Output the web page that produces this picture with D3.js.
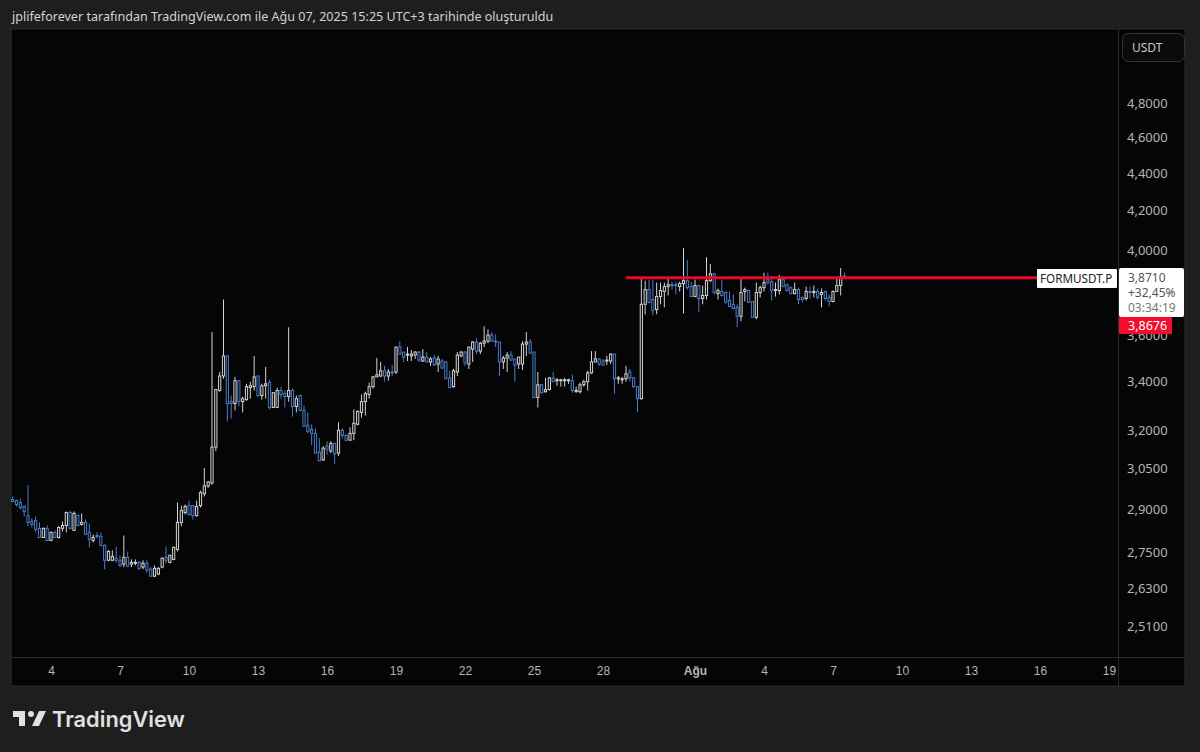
<!DOCTYPE html>
<html>
<head>
<meta charset="utf-8">
<script src="https://cdn.jsdelivr.net/npm/d3@7"></script>
<style>
  html, body { margin: 0; padding: 0; background: #1e1e1e; }
  svg { display: block; }
  text { font-family: "Liberation Sans", sans-serif; }
  .domain, .tick line { display: none; }
</style>
</head>
<body>
<div id="chart"></div>
<script>
var titleText = "jplifeforever tarafından TradingView.com ile Ağu 07, 2025 15:25 UTC+3 tarihinde oluşturuldu";

// 4h bars, first one is Jul 2 08:00
var firstBar = new Date(Date.UTC(2025, 6, 2, 8));

var opens = [
  2.936,2.932,2.925,2.911,2.878,2.857,2.861,2.833,2.801,2.833,
  2.791,2.819,2.801,2.833,2.843,2.889,2.826,2.878,2.847,2.854,
  2.819,2.791,2.808,2.805,2.774,2.723,2.723,2.730,2.723,2.710,
  2.733,2.710,2.713,2.716,2.700,2.713,2.693,2.670,2.677,2.700,
  2.733,2.716,2.726,2.760,2.854,2.889,2.914,2.914,2.878,2.914,
  2.957,2.986,2.997,3.133,3.361,3.422,3.508,3.315,3.307,3.402,
  3.315,3.323,3.373,3.377,3.422,3.340,3.381,3.394,3.291,3.291,
  3.361,3.348,3.336,3.361,3.295,3.340,3.279,3.219,3.203,3.187,
  3.114,3.084,3.137,3.118,3.148,3.110,3.199,3.179,3.160,3.187,
  3.223,3.271,3.315,3.344,3.377,3.418,3.422,3.444,3.422,3.439,
  3.439,3.547,3.525,3.512,3.508,3.512,3.525,3.486,3.503,3.482,
  3.499,3.473,3.486,3.482,3.414,3.377,3.439,3.508,3.525,3.473,
  3.538,3.569,3.529,3.564,3.573,3.600,3.573,3.569,3.482,3.499,
  3.512,3.495,3.473,3.473,3.560,3.569,3.525,3.332,3.385,3.356,
  3.365,3.414,3.402,3.402,3.402,3.402,3.402,3.356,3.356,3.385,
  3.398,3.435,3.482,3.495,3.486,3.486,3.486,3.516,3.410,3.406,
  3.410,3.439,3.414,3.377,3.327,3.740,3.809,3.762,3.716,3.776,
  3.800,3.823,3.832,3.832,3.823,3.837,3.851,3.823,3.776,3.828,
  3.767,3.781,3.851,3.884,3.790,3.800,3.795,3.758,3.740,3.726,
  3.685,3.800,3.804,3.753,3.680,3.795,3.818,3.856,3.846,3.804,
  3.804,3.856,3.832,3.818,3.790,3.809,3.772,3.767,3.800,3.795,
  3.800,3.786,3.800,3.772,3.753,3.800,3.828,3.874
];
var highs = [
  2.947,2.936,2.939,2.914,2.990,2.868,2.875,2.854,2.836,2.843,
  2.822,2.826,2.840,2.857,2.893,2.896,2.893,2.882,2.886,2.864,
  2.850,2.812,2.819,2.819,2.777,2.757,2.757,2.770,2.740,2.808,
  2.753,2.726,2.726,2.720,2.723,2.723,2.700,2.706,2.700,2.733,
  2.770,2.740,2.770,2.925,2.914,2.918,2.932,2.914,2.932,2.968,
  3.053,3.003,3.613,3.365,3.439,3.762,3.508,3.340,3.418,3.402,
  3.336,3.389,3.398,3.508,3.422,3.389,3.460,3.406,3.352,3.373,
  3.377,3.361,3.635,3.369,3.340,3.344,3.299,3.271,3.223,3.207,
  3.168,3.137,3.156,3.156,3.148,3.231,3.207,3.183,3.211,3.283,
  3.279,3.344,3.356,3.394,3.422,3.499,3.482,3.465,3.452,3.469,
  3.547,3.573,3.525,3.547,3.534,3.529,3.529,3.538,3.525,3.503,
  3.512,3.508,3.495,3.486,3.444,3.452,3.525,3.529,3.529,3.547,
  3.573,3.586,3.569,3.639,3.626,3.613,3.604,3.569,3.508,3.525,
  3.529,3.495,3.503,3.573,3.613,3.582,3.525,3.439,3.389,3.414,
  3.418,3.439,3.414,3.410,3.414,3.410,3.427,3.377,3.394,3.406,
  3.444,3.529,3.529,3.499,3.495,3.508,3.520,3.516,3.422,3.418,
  3.465,3.452,3.418,3.377,3.870,3.851,3.856,3.856,3.842,3.842,
  3.842,3.870,3.846,3.846,3.846,4.010,3.951,3.846,3.856,3.832,
  3.828,3.965,3.931,3.889,3.814,3.856,3.800,3.800,3.786,3.740,
  3.865,3.818,3.809,3.753,3.842,3.828,3.889,3.889,3.874,3.842,
  3.879,3.870,3.837,3.823,3.842,3.818,3.776,3.823,3.823,3.828,
  3.814,3.814,3.800,3.786,3.804,3.860,3.912,3.889
];
var lows = [
  2.925,2.911,2.900,2.875,2.840,2.836,2.819,2.801,2.801,2.788,
  2.788,2.798,2.798,2.822,2.819,2.829,2.826,2.843,2.843,2.812,
  2.767,2.784,2.798,2.770,2.693,2.720,2.720,2.716,2.700,2.700,
  2.700,2.700,2.706,2.690,2.693,2.680,2.667,2.667,2.673,2.696,
  2.713,2.713,2.723,2.753,2.840,2.882,2.878,2.864,2.875,2.907,
  2.947,2.979,2.990,3.118,3.356,3.410,3.234,3.246,3.279,3.295,
  3.271,3.319,3.327,3.361,3.336,3.323,3.327,3.283,3.291,3.291,
  3.327,3.291,3.315,3.254,3.271,3.275,3.215,3.187,3.141,3.110,
  3.080,3.080,3.103,3.110,3.069,3.099,3.168,3.156,3.160,3.160,
  3.219,3.250,3.258,3.327,3.369,3.418,3.418,3.398,3.402,3.422,
  3.431,3.516,3.482,3.486,3.486,3.495,3.482,3.482,3.482,3.465,
  3.465,3.439,3.452,3.410,3.373,3.373,3.422,3.503,3.465,3.452,
  3.482,3.516,3.516,3.547,3.564,3.569,3.547,3.422,3.452,3.439,
  3.486,3.398,3.452,3.448,3.508,3.520,3.332,3.291,3.348,3.352,
  3.361,3.398,3.381,3.377,3.377,3.389,3.352,3.352,3.348,3.377,
  3.361,3.431,3.482,3.465,3.465,3.469,3.473,3.348,3.389,3.389,
  3.398,3.398,3.373,3.271,3.323,3.694,3.744,3.689,3.694,3.740,
  3.726,3.781,3.809,3.786,3.800,3.698,3.809,3.776,3.776,3.703,
  3.740,3.762,3.846,3.786,3.762,3.776,3.744,3.726,3.716,3.635,
  3.662,3.753,3.749,3.680,3.671,3.772,3.800,3.832,3.758,3.776,
  3.786,3.823,3.800,3.786,3.786,3.740,3.749,3.758,3.767,3.772,
  3.762,3.726,3.758,3.730,3.749,3.800,3.781,3.865
];
var closes = [
  2.929,2.918,2.907,2.893,2.854,2.847,2.829,2.801,2.833,2.791,
  2.819,2.801,2.836,2.843,2.889,2.833,2.886,2.843,2.854,2.812,
  2.795,2.801,2.805,2.774,2.723,2.753,2.736,2.723,2.706,2.733,
  2.703,2.716,2.716,2.696,2.713,2.690,2.670,2.696,2.696,2.730,
  2.723,2.740,2.767,2.854,2.896,2.911,2.882,2.878,2.911,2.961,
  2.986,3.001,3.133,3.365,3.422,3.508,3.307,3.307,3.402,3.315,
  3.327,3.377,3.381,3.418,3.340,3.381,3.389,3.291,3.352,3.361,
  3.344,3.336,3.361,3.295,3.327,3.279,3.215,3.195,3.187,3.110,
  3.080,3.129,3.125,3.148,3.107,3.199,3.179,3.160,3.187,3.227,
  3.275,3.315,3.348,3.377,3.418,3.427,3.444,3.422,3.439,3.435,
  3.547,3.516,3.503,3.516,3.516,3.525,3.490,3.503,3.482,3.495,
  3.469,3.495,3.456,3.410,3.373,3.444,3.512,3.525,3.478,3.547,
  3.569,3.529,3.564,3.573,3.600,3.573,3.569,3.482,3.499,3.512,
  3.490,3.469,3.503,3.560,3.569,3.520,3.332,3.385,3.352,3.365,
  3.414,3.398,3.406,3.406,3.406,3.406,3.361,3.361,3.385,3.398,
  3.435,3.482,3.495,3.473,3.469,3.490,3.516,3.410,3.414,3.410,
  3.431,3.414,3.377,3.327,3.740,3.809,3.749,3.712,3.776,3.804,
  3.823,3.832,3.828,3.828,3.837,3.851,3.818,3.776,3.828,3.767,
  3.781,3.851,3.884,3.795,3.804,3.781,3.749,3.730,3.721,3.685,
  3.795,3.809,3.749,3.680,3.795,3.818,3.842,3.842,3.804,3.809,
  3.856,3.823,3.804,3.790,3.809,3.762,3.762,3.800,3.795,3.800,
  3.772,3.795,3.767,3.753,3.800,3.828,3.870,3.871
];

var dateTicks = [
  new Date(Date.UTC(2025, 6, 4)), new Date(Date.UTC(2025, 6, 7)), new Date(Date.UTC(2025, 6, 10)),
  new Date(Date.UTC(2025, 6, 13)), new Date(Date.UTC(2025, 6, 16)), new Date(Date.UTC(2025, 6, 19)),
  new Date(Date.UTC(2025, 6, 22)), new Date(Date.UTC(2025, 6, 25)), new Date(Date.UTC(2025, 6, 28)),
  new Date(Date.UTC(2025, 7, 1)), new Date(Date.UTC(2025, 7, 4)), new Date(Date.UTC(2025, 7, 7)),
  new Date(Date.UTC(2025, 7, 10)), new Date(Date.UTC(2025, 7, 13)), new Date(Date.UTC(2025, 7, 16)),
  new Date(Date.UTC(2025, 7, 19))
];
// 3,8000 sits fully behind the last price box, so it is left out
var priceTicks = [4.8, 4.6, 4.4, 4.2, 4.0, 3.6, 3.4, 3.2, 3.05, 2.9, 2.75, 2.63, 2.51];

var levelPrice = 3.865;
var levelStart = new Date(Date.UTC(2025, 6, 29));
var lastPrice = 3.871;
var lastChange = "+32,45%";
var countdown = "03:34:19";
var markPrice = 3.8676;

var svgWidth = 1200;
var svgHeight = 752;

var panel = { left: 11, top: 29, right: 1185, bottom: 686 };
var axisX = 1118;   // price axis starts here
var axisY = 657;    // time axis starts here

var upColor = "#d4d4d4";
var downColor = "#4a7cc7";
var bgColor = "#050505";
var lineColor = "#2b2b2b";
var tickColor = "#b4b4b4";

var svg = d3.select("#chart")
  .append("svg")
  .attr("width", svgWidth)
  .attr("height", svgHeight);

svg.append("rect")
  .attr("width", svgWidth)
  .attr("height", svgHeight)
  .attr("fill", "#1e1e1e");

svg.append("text")
  .attr("x", 12)
  .attr("y", 21)
  .attr("fill", "#d2d2d2")
  .style("font-family", "'Noto Sans'")
  .style("font-size", "12.55px")
  .text(titleText);

svg.append("rect")
  .attr("x", panel.left)
  .attr("y", panel.top)
  .attr("width", panel.right - panel.left)
  .attr("height", panel.bottom - panel.top)
  .attr("fill", bgColor)
  .attr("stroke", lineColor);

svg.append("line")
  .attr("x1", axisX + 0.5).attr("x2", axisX + 0.5)
  .attr("y1", panel.top).attr("y2", panel.bottom)
  .attr("stroke", lineColor);

svg.append("line")
  .attr("x1", panel.left).attr("x2", panel.right)
  .attr("y1", axisY + 0.5).attr("y2", axisY + 0.5)
  .attr("stroke", lineColor);

// scales, log price axis like the original
var xScale = d3.scaleUtc()
  .domain([dateTicks[0], dateTicks[dateTicks.length - 1]])
  .range([51, 1109]);

var yScale = d3.scaleLog()
  .domain([2.51, 4.8])
  .range([626, 103]);

var barTime = function (i) { return d3.utcHour.offset(firstBar, 4 * i); };

var commaFormat = function (v) { return v.toFixed(4).replace(".", ","); };

var timeAxis = d3.axisBottom(xScale)
  .tickValues(dateTicks)
  .tickSize(0)
  .tickPadding(0)
  .tickFormat(function (d) { return d.getUTCDate() === 1 ? "Ağu" : d.getUTCDate(); });

var timeG = svg.append("g")
  .attr("transform", "translate(0, 666)")
  .call(timeAxis);
timeG.selectAll("text")
  .attr("fill", tickColor)
  .style("font-size", "12px")
  .style("font-family", "'Liberation Sans'")
  .style("font-weight", function (d) { return d.getUTCDate() === 1 ? "700" : "400"; });

var priceAxis = d3.axisRight(yScale)
  .tickValues(priceTicks)
  .tickSize(0)
  .tickPadding(0)
  .tickFormat(commaFormat);

var priceG = svg.append("g")
  .attr("transform", "translate(1127, 0)")
  .call(priceAxis);
priceG.selectAll("text")
  .attr("fill", tickColor)
  .style("font-size", "13px")
  .style("font-family", "'Noto Sans'");

// candles
var bars = svg.append("g").selectAll("g")
  .data(opens)
  .enter()
  .append("g");

bars.append("line")
  .attr("x1", function (d, i) { return xScale(barTime(i)); })
  .attr("x2", function (d, i) { return xScale(barTime(i)); })
  .attr("y1", function (d, i) { return yScale(highs[i]); })
  .attr("y2", function (d, i) { return yScale(lows[i]); })
  .attr("stroke", function (d, i) { return closes[i] >= opens[i] ? upColor : downColor; })
  .attr("stroke-width", 1);

bars.append("rect")
  .attr("x", function (d, i) { return xScale(barTime(i)) - 1.1; })
  .attr("width", 2.2)
  .attr("y", function (d, i) { return yScale(Math.max(opens[i], closes[i])); })
  .attr("height", function (d, i) {
    return Math.max(1, Math.abs(yScale(opens[i]) - yScale(closes[i])));
  })
  .attr("fill", bgColor)
  .attr("stroke", function (d, i) { return closes[i] >= opens[i] ? upColor : downColor; })
  .attr("stroke-width", 1);

// horizontal level
svg.append("line")
  .attr("x1", xScale(levelStart))
  .attr("x2", 1038)
  .attr("y1", yScale(levelPrice))
  .attr("y2", yScale(levelPrice))
  .attr("stroke", "#e80a2c")
  .attr("stroke-width", 3);

// symbol tag
svg.append("rect")
  .attr("x", 1037).attr("y", 269)
  .attr("width", 80).attr("height", 19)
  .attr("rx", 1)
  .attr("fill", "#ffffff");
svg.append("text")
  .attr("x", 1040).attr("y", 283)
  .attr("fill", "#222222")
  .style("font-family", "'Noto Sans'")
  .style("font-size", "11.7px")
  .text("FORMUSDT.P");

// last price box
svg.append("rect")
  .attr("x", 1119).attr("y", 268)
  .attr("width", 65).attr("height", 49)
  .attr("rx", 2)
  .attr("fill", "#ffffff");
svg.selectAll(".lastInfo")
  .data([commaFormat(lastPrice), lastChange, countdown])
  .enter()
  .append("text")
  .attr("class", "lastInfo")
  .attr("x", 1128)
  .attr("y", function (d, i) { return 282 + i * 15; })
  .attr("fill", function (d, i) { return i === 2 ? "#777777" : "#555555"; })
  .style("font-family", "'Noto Sans'")
  .style("font-size", "12px")
  .text(function (d) { return d; });

svg.append("rect")
  .attr("x", 1119).attr("y", 317)
  .attr("width", 53).attr("height", 17)
  .attr("rx", 1)
  .attr("fill", "#f20d2c");
svg.append("text")
  .attr("x", 1128).attr("y", 330)
  .attr("fill", "#ffffff")
  .style("font-family", "'Noto Sans'")
  .style("font-size", "12.5px")
  .text(commaFormat(markPrice));

// currency button
svg.append("rect")
  .attr("x", 1122.5).attr("y", 33.5)
  .attr("width", 62).attr("height", 28)
  .attr("rx", 6)
  .attr("fill", "#0b0b0b")
  .attr("stroke", "#333333");
svg.append("text")
  .attr("x", 1132).attr("y", 52)
  .attr("fill", "#c8c8c8")
  .style("font-family", "'Noto Sans'")
  .style("font-size", "12px")
  .text("USDT");

// TradingView logo
svg.append("path")
  .attr("transform", "translate(11, 705)")
  .attr("d", "M14 6H2v6h6v9h6V6zm14 15h-7l7-15h7l-7 15zm-8-9a3 3 0 1 0 0-6 3 3 0 0 0 0 6z")
  .attr("fill", "#e0e0e0");
svg.append("text")
  .attr("x", 52).attr("y", 727)
  .attr("fill", "#e0e0e0")
  .style("font-family", "Inter")
  .style("font-weight", "600")
  .style("font-size", "21.8px")
  .text("TradingView");
</script>
</body>
</html>
